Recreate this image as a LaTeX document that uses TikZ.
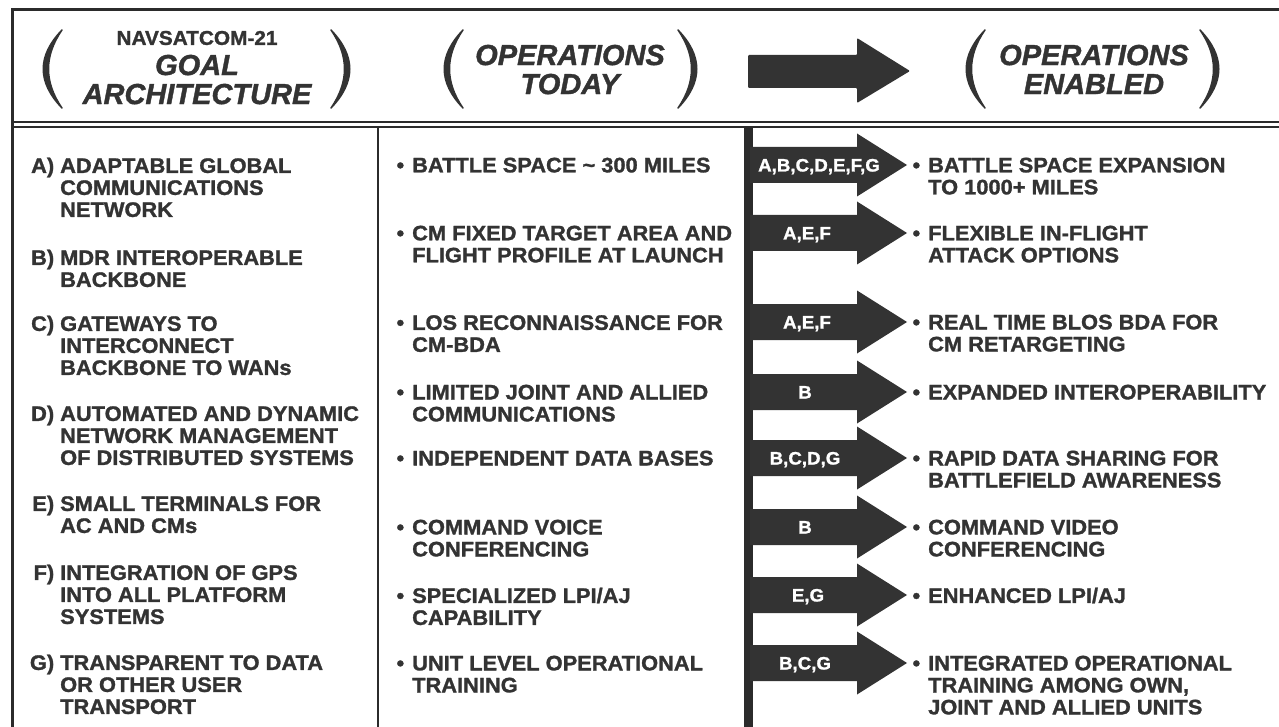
\documentclass[tikz,border=0pt]{standalone}
\usepackage{fontspec}
\setmainfont{Liberation Sans}[BoldFeatures={FakeBold=1.3, FakeStretch=1.04}, BoldItalicFeatures={FakeBold=1.3}]
\usepackage{xcolor}
\definecolor{navInk}{HTML}{333333}
\definecolor{navRule}{HTML}{2B2B2B}
\usepackage{tikz}
\newcommand{\dotmark}{\llap{\textbullet\hspace{8pt}}}
\newcommand{\goalmark}[1]{\llap{#1)\hspace{6pt}}}

\begin{document}
\begin{tikzpicture}[x=1pt, y=-1pt,
  item/.style={anchor=north west, align=left, inner sep=0pt, text=navInk,
    font=\fontsize{21}{22}\selectfont\bfseries},
  banner/.style={anchor=north, align=center, inner sep=0pt, text=navInk,
    font=\fontsize{29}{29}\selectfont\bfseries\itshape},
  tag/.style={inner sep=0pt, text height=13pt, text depth=0pt, text=white,
    font=\fontsize{18}{18}\selectfont\bfseries},
  paren/.style={fill=navInk, draw=navInk, line width=1.5pt, line join=round}]
  \fill[white] (0,0) rectangle (1279,727);
  \useasboundingbox (0,0) rectangle (1279,727);
  % ---------- frame and column rules ----------
  \draw[navRule, line width=3pt] (12,735) -- (12,10) -- (1285,10);
  \draw[navRule, line width=2.5pt] (12,122) -- (1285,122);
  \draw[navRule, line width=2pt] (12,127.5) -- (1285,127.5);
  \draw[navRule, line width=2.5pt] (378,127.5) -- (378,735);
  \fill[navRule] (744,127.5) rectangle (753,735);
  % ---------- header ----------
  \path[paren] (62,30) .. controls (37,56) and (37,82) .. (62,108) .. controls (44,82) and (44,56) .. (62,30) -- cycle;
  \path[paren] (331,30) .. controls (356,56) and (356,82) .. (331,108) .. controls (349,82) and (349,56) .. (331,30) -- cycle;
  \node[inner sep=0pt, text=navInk, font=\fontsize{20}{20}\selectfont\bfseries] (navsat) at (197,38) {NAVSATCOM-21};
  \node[banner] (goal) at (197,54.6) {GOAL\\ARCHITECTURE};
  \path[paren] (463,30) .. controls (438,56) and (438,82) .. (463,108) .. controls (445,82) and (445,56) .. (463,30) -- cycle;
  \path[paren] (678,30) .. controls (703,56) and (703,82) .. (678,108) .. controls (696,82) and (696,56) .. (678,30) -- cycle;
  \node[banner] (today) at (570,44.6) {OPERATIONS\\TODAY};
  % the big arrow between the two operations headings
  \fill[navInk, rounded corners=1pt] (748,55) -- (857,55) -- (857,38) -- (910,71) -- (857,103) -- (857,88) -- (748,88) -- cycle;
  \path[paren] (985,30) .. controls (960,56) and (960,82) .. (985,108) .. controls (967,82) and (967,56) .. (985,30) -- cycle;
  \path[paren] (1200,30) .. controls (1225,56) and (1225,82) .. (1200,108) .. controls (1218,82) and (1218,56) .. (1200,30) -- cycle;
  \node[banner] (enabled) at (1094,44.6) {OPERATIONS\\ENABLED};
  % ---------- goal architecture items ----------
  \node[item] (goalA) at (60,157.5) {\goalmark{A}ADAPTABLE GLOBAL\\COMMUNICATIONS\\NETWORK};
  \node[item] (goalB) at (60,249.5) {\goalmark{B}MDR INTEROPERABLE\\BACKBONE};
  \node[item] (goalC) at (60,315.5) {\goalmark{C}GATEWAYS TO\\INTERCONNECT\\BACKBONE TO WANs};
  \node[item] (goalD) at (60,405.5) {\goalmark{D}AUTOMATED AND DYNAMIC\\NETWORK MANAGEMENT\\OF DISTRIBUTED SYSTEMS};
  \node[item] (goalE) at (60,495.5) {\goalmark{E}SMALL TERMINALS FOR\\AC AND CMs};
  \node[item] (goalF) at (60,564.5) {\goalmark{F}INTEGRATION OF GPS\\INTO ALL PLATFORM\\SYSTEMS};
  \node[item] (goalG) at (60,654.5) {\goalmark{G}TRANSPARENT TO DATA\\OR OTHER USER\\TRANSPORT};
  % ---------- operations today ----------
  \node[item] (today1) at (412,157.5) {\dotmark BATTLE SPACE \textasciitilde\ 300 MILES};
  \node[item] (today2) at (412,225.5) {\dotmark CM FIXED TARGET AREA AND\\FLIGHT PROFILE AT LAUNCH};
  \node[item] (today3) at (412,315) {\dotmark LOS RECONNAISSANCE FOR\\CM-BDA};
  \node[item] (today4) at (412,384.5) {\dotmark LIMITED JOINT AND ALLIED\\COMMUNICATIONS};
  \node[item] (today5) at (412,450.5) {\dotmark INDEPENDENT DATA BASES};
  \node[item] (today6) at (412,519.5) {\dotmark COMMAND VOICE\\CONFERENCING};
  \node[item] (today7) at (412,587.5) {\dotmark SPECIALIZED LPI/AJ\\CAPABILITY};
  \node[item] (today8) at (412,655.5) {\dotmark UNIT LEVEL OPERATIONAL\\TRAINING};
  % ---------- enabling arrows ----------
  \fill[navInk, shift={(0,165)}] (750,-18) -- (857,-18) -- (857,-31.5) -- (907,0) -- (857,31.5) -- (857,18) -- (750,18) -- cycle;
  \fill[navInk, shift={(0,233)}] (750,-18) -- (857,-18) -- (857,-31.5) -- (907,0) -- (857,31.5) -- (857,18) -- (750,18) -- cycle;
  \fill[navInk, shift={(0,322)}] (750,-18) -- (857,-18) -- (857,-31.5) -- (907,0) -- (857,31.5) -- (857,18) -- (750,18) -- cycle;
  \fill[navInk, shift={(0,392)}] (750,-18) -- (857,-18) -- (857,-31.5) -- (907,0) -- (857,31.5) -- (857,18) -- (750,18) -- cycle;
  \fill[navInk, shift={(0,458)}] (750,-18) -- (857,-18) -- (857,-31.5) -- (907,0) -- (857,31.5) -- (857,18) -- (750,18) -- cycle;
  \fill[navInk, shift={(0,527)}] (750,-18) -- (857,-18) -- (857,-31.5) -- (907,0) -- (857,31.5) -- (857,18) -- (750,18) -- cycle;
  \fill[navInk, shift={(0,595)}] (750,-18) -- (857,-18) -- (857,-31.5) -- (907,0) -- (857,31.5) -- (857,18) -- (750,18) -- cycle;
  \fill[navInk, shift={(0,663)}] (750,-18) -- (857,-18) -- (857,-31.5) -- (907,0) -- (857,31.5) -- (857,18) -- (750,18) -- cycle;
  \node[tag] (tag1) at (819,165) {A,B,C,D,E,F,G};
  \node[tag] (tag2) at (807,233) {A,E,F};
  \node[tag] (tag3) at (807,322) {A,E,F};
  \node[tag] (tag4) at (805,392) {B};
  \node[tag] (tag5) at (805,458) {B,C,D,G};
  \node[tag] (tag6) at (805,527) {B};
  \node[tag] (tag7) at (808,595) {E,G};
  \node[tag] (tag8) at (805,663) {B,C,G};
  % ---------- operations enabled ----------
  \node[item] (enabled1) at (928,157.5) {\dotmark BATTLE SPACE EXPANSION\\TO 1000+ MILES};
  \node[item] (enabled2) at (928,225.5) {\dotmark FLEXIBLE IN-FLIGHT\\ATTACK OPTIONS};
  \node[item] (enabled3) at (928,314.5) {\dotmark REAL TIME BLOS BDA FOR\\CM RETARGETING};
  \node[item] (enabled4) at (928,384.5) {\dotmark EXPANDED INTEROPERABILITY};
  \node[item] (enabled5) at (928,450.5) {\dotmark RAPID DATA SHARING FOR\\BATTLEFIELD AWARENESS};
  \node[item] (enabled6) at (928,519.5) {\dotmark COMMAND VIDEO\\CONFERENCING};
  \node[item] (enabled7) at (928,587.5) {\dotmark ENHANCED LPI/AJ};
  \node[item] (enabled8) at (928,655.5) {\dotmark INTEGRATED OPERATIONAL\\TRAINING AMONG OWN,\\JOINT AND ALLIED UNITS};
\end{tikzpicture}
\end{document}
